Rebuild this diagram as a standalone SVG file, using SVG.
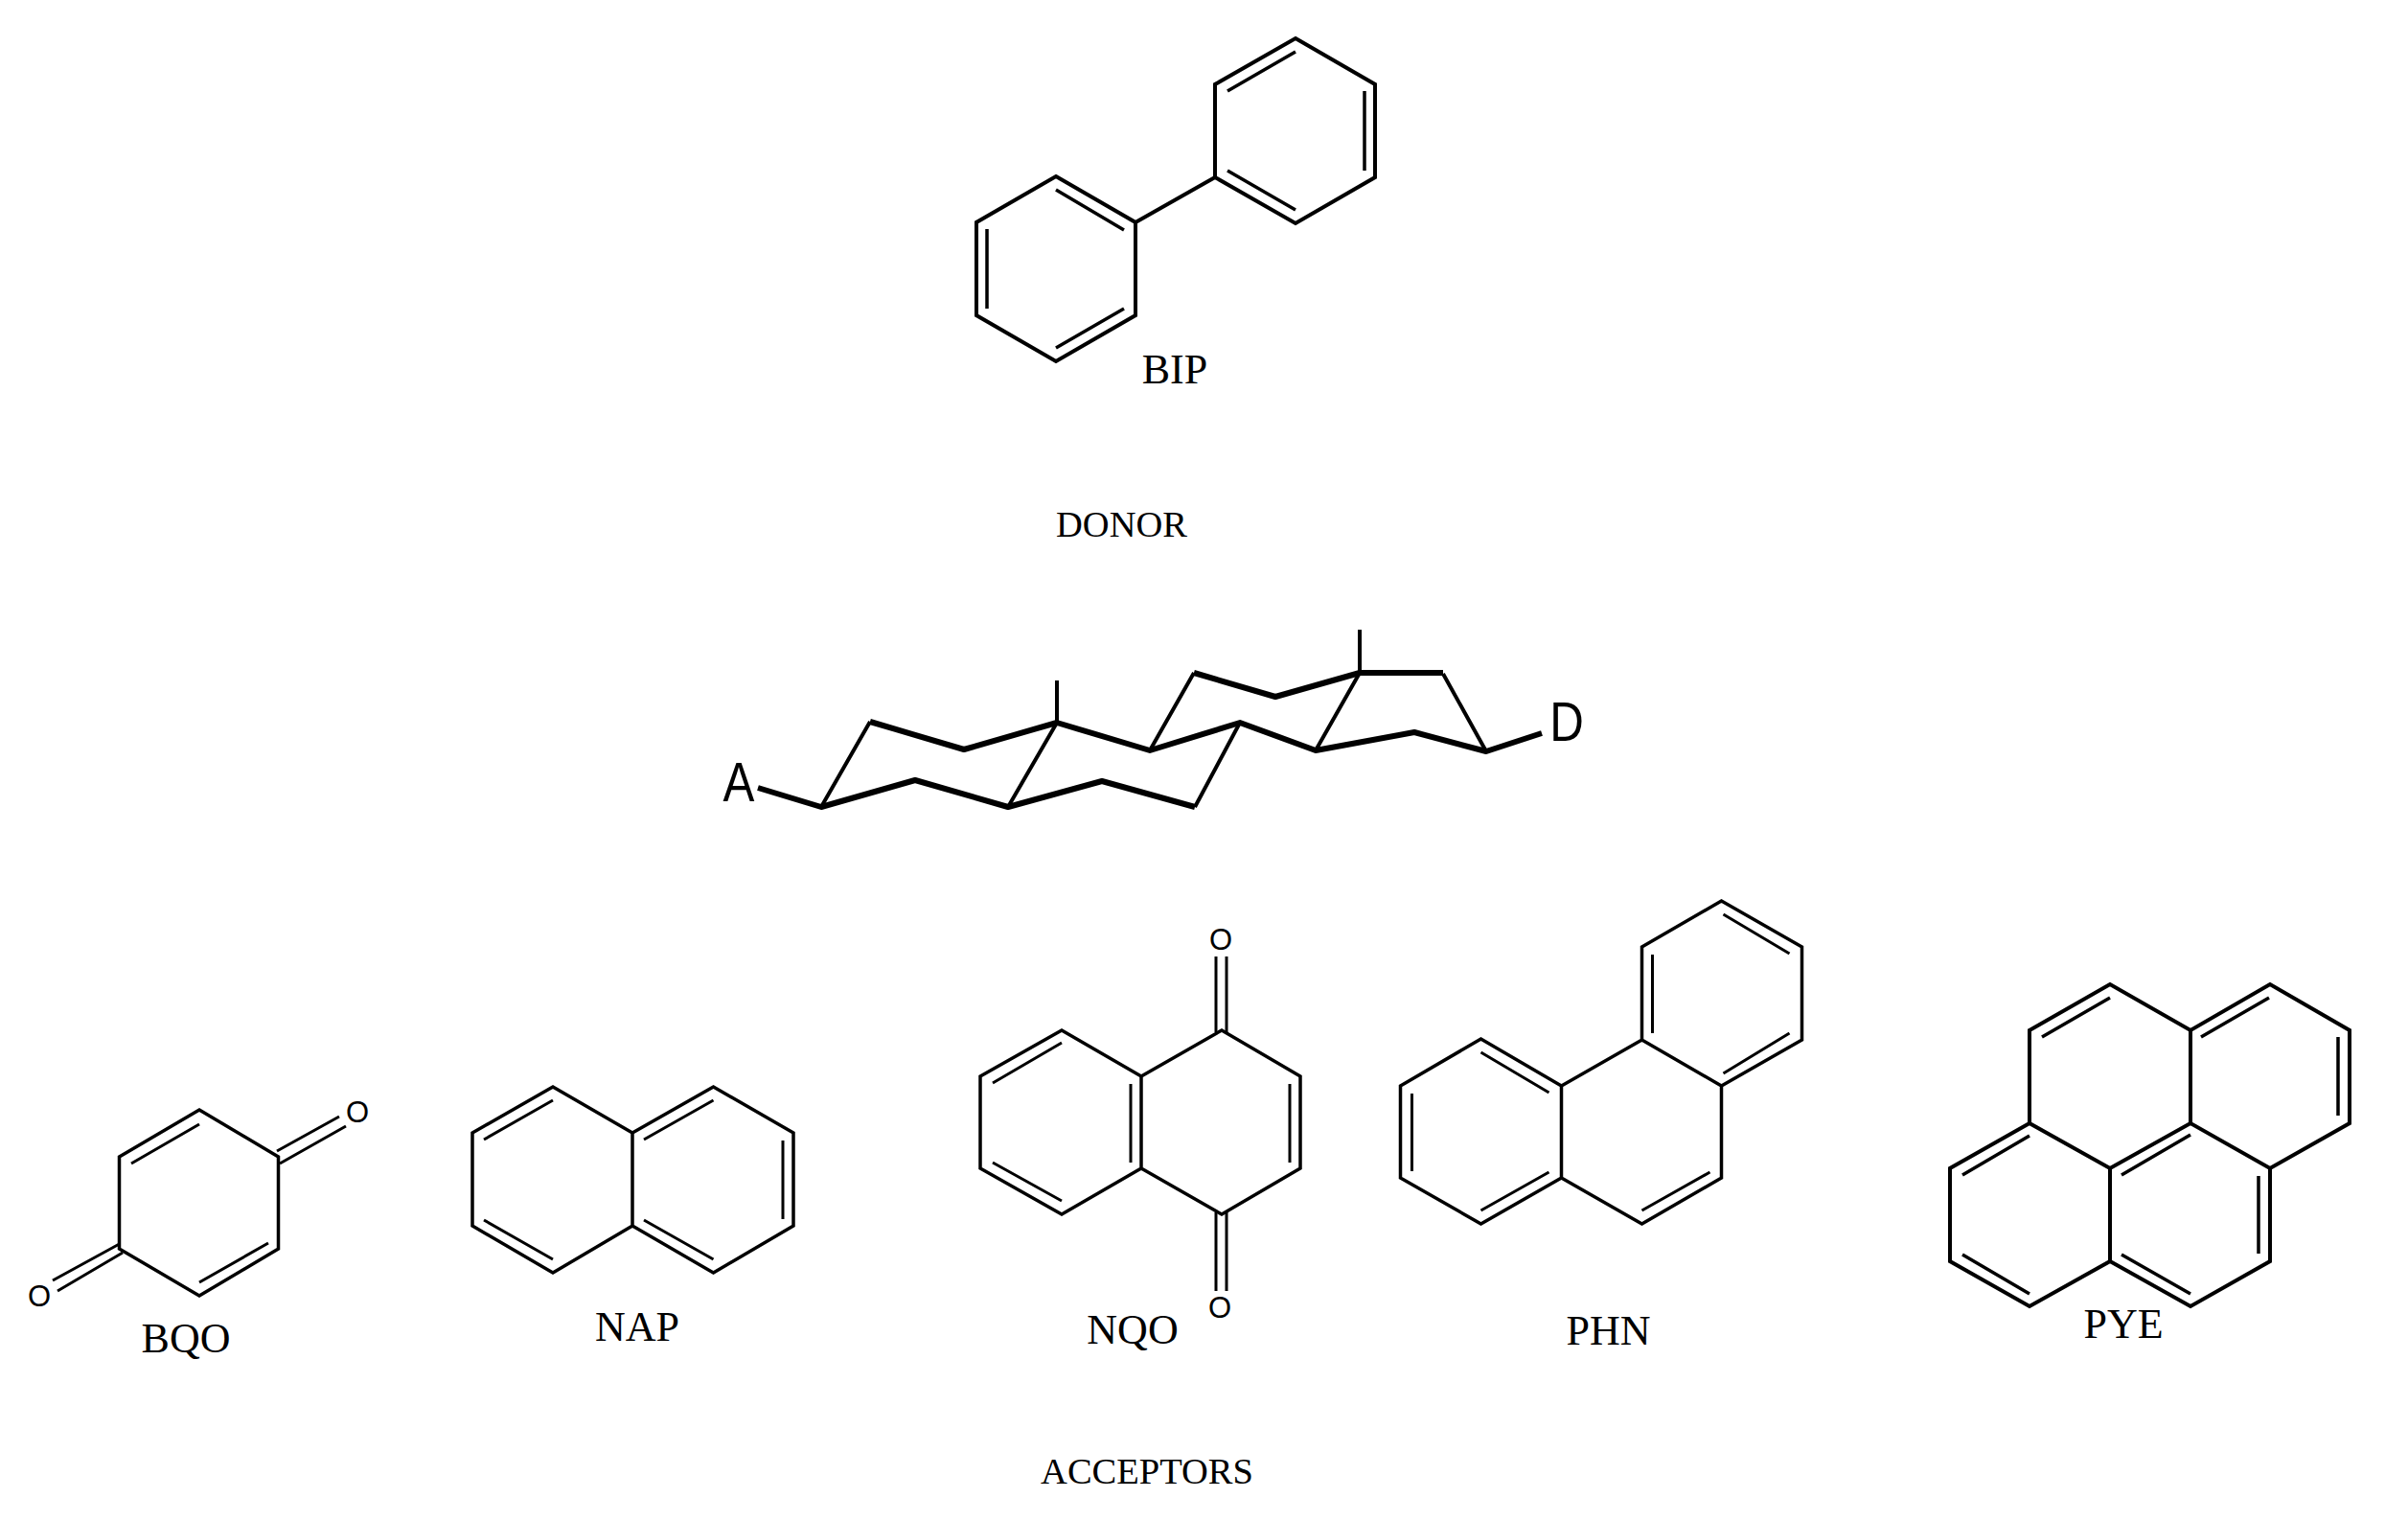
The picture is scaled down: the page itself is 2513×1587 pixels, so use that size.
<svg xmlns="http://www.w3.org/2000/svg" width="2513" height="1587" viewBox="0 0 2513 1587">
<style>
.b{fill:none;stroke:#000;stroke-width:4;stroke-linejoin:miter;stroke-linecap:butt}
.i{fill:none;stroke:#000;stroke-width:3.5}
.b2{fill:none;stroke:#000;stroke-width:3.500;stroke-linejoin:miter}
.i2{fill:none;stroke:#000;stroke-width:3}
.s{fill:none;stroke:#000;stroke-width:4}
.h{fill:none;stroke:#000;stroke-width:6;stroke-linejoin:round}
.t{font-family:"Liberation Serif",serif;font-size:44px;fill:#000;text-anchor:middle}
.c{font-family:"Liberation Serif",serif;font-size:38.500px;fill:#000;text-anchor:middle}
.o{font-family:"Liberation Sans",sans-serif;font-size:31px;fill:#000;text-anchor:middle}
.l{font-family:"Liberation Sans",sans-serif;font-size:58px;fill:#000;text-anchor:middle}
</style>
<rect width="2513" height="1587" fill="#fff"/>
<g id="BIP">
<path class="b" d="M1352 40L1435 88V185L1352 233L1268 185V88ZM1268 185L1185 232M1102 184L1185 232V329L1102 377L1019 329V232Z"/>
<path class="i" d="M1352 54L1281 95M1424 95V178M1352 219L1281 178M1102 198L1173 240M1173 322L1102 363M1030 239V322"/>
<text class="t" x="1226" y="400">BIP</text>
</g>
<g id="DONOR"><text class="c" x="1170.500" y="560">DONOR</text></g>
<g id="steroid">
<path class="h" d="M791 822L857 842L955 814L1052 842L1150 815L1247 842M908 753L1006 782L1103 754L1200 783L1294 754L1373 783L1476 764L1551 784L1609 765M1246 702L1331 727L1419 702H1506"/>
<path class="s" d="M857 842L908 753M1052 842L1103 754M1200 783L1246 702M1247 842L1294 754M1373 783L1419 702M1506 703L1551 784M1103 710V754M1419 657V702"/>
<text class="l" transform="translate(771 836) scale(.85 1)">A</text>
<text class="l" transform="translate(1635 773) scale(.85 1)">D</text>
</g>
<g id="BQO">
<path class="b2" d="M208 1158L290.500 1207V1303L208 1352L124.500 1303V1207Z"/>
<path class="i2" d="M137 1214L208 1173M280 1297L208 1338M289 1201L354 1165M292 1214L361 1175M124.500 1298L55 1336M128 1307L60 1347"/>
<text class="o" x="373" y="1171">O</text>
<text class="o" x="41" y="1363">O</text>
<text class="t" x="194" y="1411">BQO</text>
</g>
<g id="NAP" transform="translate(-3 0)">
<path class="b2" d="M496 1182L580 1134L663 1182L747.500 1134L831 1182V1279L747.500 1328L663 1279L580 1328L496 1279ZM663 1182V1279"/>
<path class="i2" d="M508 1189L580 1148M508 1273L580 1314M675 1189L747.500 1148M675 1273L747.500 1314M820 1190V1272"/>
<text class="t" x="668" y="1399">NAP</text>
</g>
<g id="NQO">
<path class="b2" d="M1023 1123L1108 1075L1191 1123L1275 1075L1357 1123V1219L1275 1267L1191 1219L1108 1267L1023 1219ZM1191 1123V1219"/>
<path class="i2" d="M1036 1130L1108 1088M1036 1213L1108 1253M1180 1131V1213M1346 1131V1213M1269 998V1077M1280 998V1077M1269 1265V1347M1280 1265V1347"/>
<text class="o" x="1274" y="991">O</text>
<text class="o" x="1273" y="1375">O</text>
<text class="t" x="1182" y="1402">NQO</text>
</g>
<g id="PHN" transform="translate(-3.500 0)">
<path class="b2" d="M1465 1133L1549 1084L1633 1133L1717 1085V988L1800 940L1884 988V1085L1800 1133V1229L1717 1277L1633 1229L1549 1277L1465 1229ZM1633 1133V1229M1717 1085L1800 1133"/>
<path class="i2" d="M1477 1141V1222M1549 1098L1620 1140M1620 1223L1549 1263M1788 1223L1717 1263M1728 996V1078M1802 954L1871 995M1871 1078L1802 1120"/>
<text class="t" x="1682" y="1403">PHN</text>
</g>
<g id="PYE">
<path class="b" d="M2118 1075L2202 1027L2286 1075L2369 1027L2452 1075V1172L2369 1219L2286 1172L2202 1219L2118 1172ZM2286 1075V1172M2118 1172L2035 1219V1316L2118 1363L2202 1316V1219M2202 1316L2286 1363L2369 1316V1219"/>
<path class="i" d="M2131 1082L2202 1041M2297 1082L2368 1041M2440 1082V1164M2048 1226L2118 1185M2214 1226L2286 1184M2357 1227V1308M2048 1309L2118 1350M2214 1309L2286 1350"/>
<text class="t" x="2216" y="1396">PYE</text>
</g>
<g id="ACCEPTORS"><text class="c" x="1197" y="1548">ACCEPTORS</text></g>
<g id="connectors"/>
</svg>
